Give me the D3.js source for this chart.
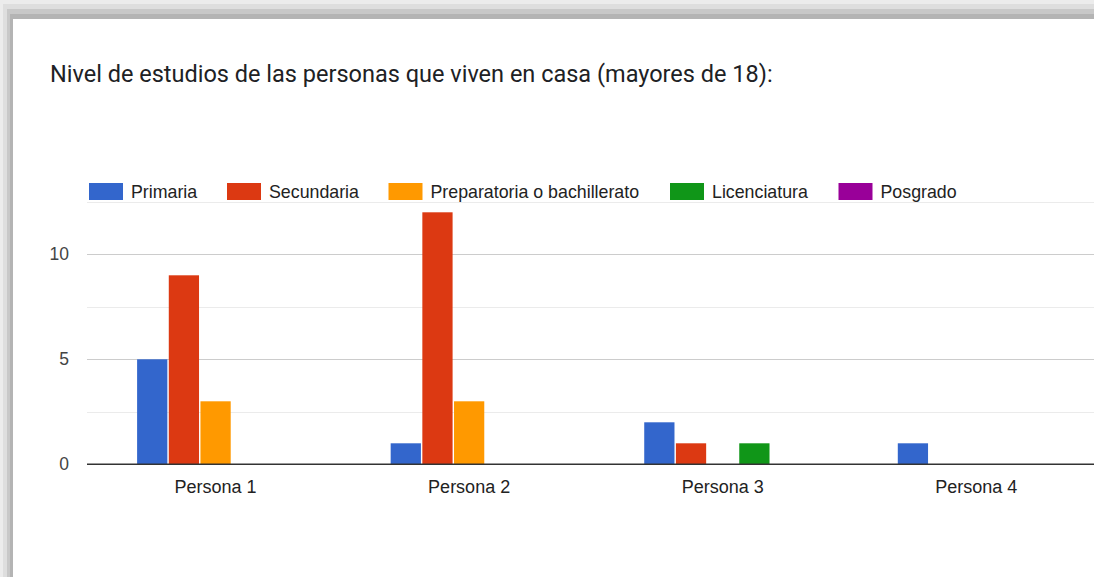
<!DOCTYPE html>
<html><head><meta charset="utf-8">
<script src="https://cdn.jsdelivr.net/npm/d3@7"></script>
<style>html,body{margin:0;padding:0;background:#fff;overflow:hidden}</style>
</head><body>
<svg id="c" width="1094" height="577"></svg>
<script>
const title = "Nivel de estudios de las personas que viven en casa (mayores de 18):";
const categories = ["Persona 1", "Persona 2", "Persona 3", "Persona 4"];
const seriesNames = ["Primaria", "Secundaria", "Preparatoria o bachillerato", "Licenciatura", "Posgrado"];
const primaria = [5, 1, 2, 1];
const secundaria = [9, 12, 1, 0];
const preparatoria = [3, 3, 0, 0];
const licenciatura = [0, 0, 1, 0];
const posgrado = [0, 0, 0, 0];
const colors = ["#3366cc", "#dc3912", "#ff9900", "#109618", "#990099"];
const yTicks = [0, 5, 10];
const yMinor = [2.5, 7.5, 12.5];

const seriesValues = [primaria, secundaria, preparatoria, licenciatura, posgrado];
const svg = d3.select("#c");

// frame shadow
svg.append("rect").attr("x",0).attr("y",0).attr("width",1094).attr("height",577).attr("fill","#ececec");
svg.append("rect").attr("x",3).attr("y",4).attr("width",1091).attr("height",573).attr("fill","#dedede");
svg.append("rect").attr("x",7).attr("y",9).attr("width",1087).attr("height",568).attr("fill","#c8c8c8");
svg.append("rect").attr("x",10).attr("y",14).attr("width",1084).attr("height",563).attr("fill","#b4b4b4");
svg.append("rect").attr("x",13).attr("y",19).attr("width",1081).attr("height",558).attr("fill","#ffffff");

const titleText = svg.append("text").attr("x",50).attr("y",81.5)
  .attr("font-family","Roboto").attr("font-size",23.5).attr("fill","#202124")
  .text(title);

const y = d3.scaleLinear().domain([0, 12.5]).range([464.3, 201.8]);
const x0 = d3.scaleBand().domain(categories).range([87, 1101]).paddingInner(0.381).paddingOuter(0.19).align(0.52);
const x1 = d3.scaleBand().domain(seriesNames).range([0, x0.bandwidth()]).paddingInner(0.045);

const font = "Liberation Sans, Arial, sans-serif";
// gridlines
svg.append("g").selectAll("line").data(yMinor).join("line")
  .attr("x1",87).attr("x2",1094).attr("y1",d=>Math.round(y(d))+0.5).attr("y2",d=>Math.round(y(d))+0.5)
  .attr("stroke","#ebebeb").attr("stroke-width",1);
svg.append("g").selectAll("line").data(yTicks.filter(d=>d>0)).join("line")
  .attr("x1",87).attr("x2",1094).attr("y1",d=>Math.round(y(d))+0.5).attr("y2",d=>Math.round(y(d))+0.5)
  .attr("stroke","#cccccc").attr("stroke-width",1);

// y labels via axis
const yAxis = svg.append("g").attr("transform","translate(69,0)")
  .call(d3.axisLeft(y).tickValues(yTicks).tickSize(0).tickPadding(0).tickFormat(d3.format("d")));
yAxis.select(".domain").remove();
yAxis.selectAll("text").attr("font-family",font).attr("font-size",17.5).attr("fill","#444");

// bars
const groups = svg.append("g").selectAll("g").data(categories).join("g")
  .attr("transform", d=>`translate(${x0(d)},0)`);
groups.selectAll("rect").data((d,i)=>seriesNames.map((s,j)=>({s, j, v: seriesValues[j][i]})))
  .join("rect")
  .attr("x", d=>x1(d.s)).attr("width", x1.bandwidth())
  .attr("y", d=>y(d.v)).attr("height", d=>y(0)-y(d.v))
  .attr("fill", d=>colors[d.j]);

// baseline
svg.append("line").attr("x1",87).attr("x2",1094).attr("y1",y(0)).attr("y2",y(0))
  .attr("stroke","#333").attr("stroke-width",1.5);

// x labels
const xAxis = svg.append("g").attr("transform",`translate(0,${y(0)})`)
  .call(d3.axisBottom(x0).tickSize(0).tickPadding(0));
xAxis.select(".domain").remove();
xAxis.selectAll("text").attr("font-family",font).attr("font-size",18).attr("fill","#222")
  .attr("dy",null).attr("y",28.5);

// legend
const legendX = [89, 227, 388.5, 670, 838.5];
const lg = svg.append("g").selectAll("g").data(seriesNames).join("g")
  .attr("transform",(d,i)=>`translate(${legendX[i]},183)`);
lg.append("rect").attr("width",34).attr("height",17).attr("fill",(d,i)=>colors[i]);
lg.append("text").attr("x",42).attr("y",14.5).attr("font-family",font).attr("font-size",17.8).attr("fill","#222").text(d=>d);
</script>
</body></html>
